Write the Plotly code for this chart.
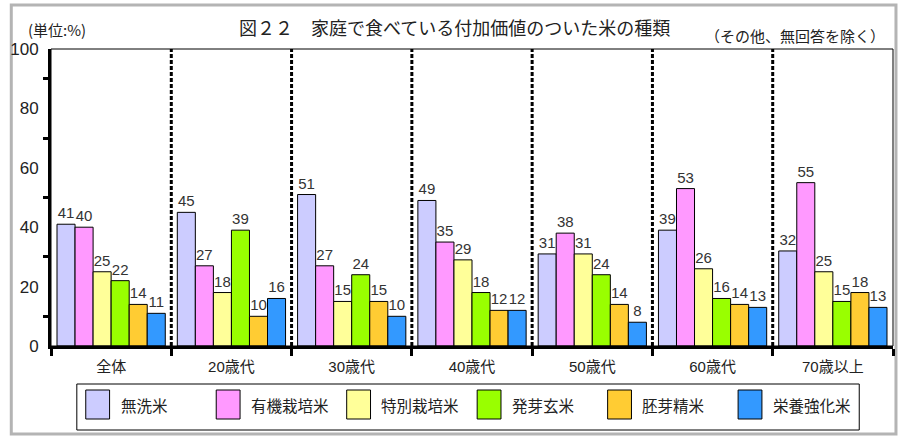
import plotly.graph_objects as go

# ---------------- data ----------------
categories = ["全体", "20歳代", "30歳代", "40歳代", "50歳代", "60歳代", "70歳以上"]
series_names = ["無洗米", "有機栽培米", "特別栽培米", "発芽玄米", "胚芽精米", "栄養強化米"]
series_colors = ["#CCCCFF", "#FF99FF", "#FFFF99", "#99FF00", "#FFCC33", "#3399FF"]

musenmai = [41, 45, 51, 49, 31, 39, 32]
yuki = [40, 27, 27, 35, 38, 53, 55]
tokubetsu = [25, 18, 15, 29, 31, 26, 25]
hatsuga = [22, 39, 24, 18, 24, 16, 15]
haiga = [14, 10, 15, 12, 14, 14, 18]
eiyo = [11, 16, 10, 12, 8, 13, 13]
series_values = [musenmai, yuki, tokubetsu, hatsuga, haiga, eiyo]

y_ticks = [0, 20, 40, 60, 80, 100]

title_text = "図２２　家庭で食べている付加価値のついた米の種類"
unit_text = "(単位:%)"
note_text = "（その他、無回答を除く）"

# ---------------- layout helpers ----------------
W, H = 903, 440
L, R, T, B = 45, 10, 49, 94
PW, PH = W - L - R, H - T - B


def PX(px):
    return (px - L) / PW


def PY(py):
    return (H - B - py) / PH


LATIN = "Liberation Sans, Arial, Noto Sans CJK JP"
CJK = "Noto Sans CJK JP, Liberation Sans"

fig = go.Figure()
for name, color, vals in zip(series_names, series_colors, series_values):
    fig.add_trace(go.Bar(
        x=categories, y=vals, name=name,
        marker=dict(color=color, line=dict(color="black", width=1)),
        text=[str(v) for v in vals], textposition="outside",
        textfont=dict(family=LATIN, size=15, color="#333333"),
        constraintext="none", cliponaxis=False, showlegend=False,
    ))

shapes = []
# outer frame
shapes.append(dict(type="rect", xref="paper", yref="paper",
                   x0=PX(5), x1=PX(896), y0=PY(434), y1=PY(5),
                   line=dict(color="#B4B4B4", width=3), layer="below"))
# plot frame (thin)
shapes.append(dict(type="rect", xref="paper", yref="paper", x0=0, x1=1, y0=0, y1=1,
                   line=dict(color="black", width=1), layer="above"))
# dotted dividers between categories
for i in range(len(categories) - 1):
    shapes.append(dict(type="line", xref="x", yref="paper", x0=i + 0.5, x1=i + 0.5,
                       y0=0, y1=1, line=dict(color="black", width=3, dash="4px,2px"),
                       layer="above"))
# legend box
shapes.append(dict(type="rect", xref="paper", yref="paper",
                   x0=PX(71), x1=PX(859), y0=PY(430), y1=PY(384),
                   line=dict(color="black", width=1), fillcolor="white"))

annotations = []
for i, (name, color) in enumerate(zip(series_names, series_colors)):
    sx = 80 + i * 131.4
    shapes.append(dict(type="rect", xref="paper", yref="paper",
                       x0=PX(sx), x1=PX(sx + 24), y0=PY(419), y1=PY(390),
                       fillcolor=color, line=dict(color="black", width=1)))
    annotations.append(dict(text=name, xref="paper", yref="paper", x=PX(sx + 33), y=PY(405),
                            xanchor="left", yanchor="middle", showarrow=False,
                            font=dict(family=CJK, size=15.5, color="#222222")))

annotations.append(dict(text=title_text, xref="paper", yref="paper", x=PX(451), y=PY(27),
                        xanchor="center", yanchor="middle", showarrow=False,
                        font=dict(family=CJK, size=18, color="#222222")))
annotations.append(dict(text=unit_text, xref="paper", yref="paper", x=PX(20), y=PY(29),
                        xanchor="left", yanchor="middle", showarrow=False,
                        font=dict(family=CJK, size=15, color="#222222")))
annotations.append(dict(text=note_text, xref="paper", yref="paper", x=PX(887), y=PY(35),
                        xanchor="right", yanchor="middle", showarrow=False,
                        font=dict(family=CJK, size=15, color="#222222")))

fig.update_layout(
    width=W, height=H, autosize=False,
    margin=dict(l=L, r=R, t=T, b=B, pad=0),
    paper_bgcolor="white", plot_bgcolor="white",
    barmode="group", bargap=0.1, bargroupgap=0,
    shapes=shapes, annotations=annotations, showlegend=False,
    xaxis=dict(type="category", range=[-0.5, len(categories) - 0.5],
               showline=True, linecolor="black", linewidth=3,
               tickson="boundaries", ticks="outside", ticklen=7, tickwidth=3, tickcolor="black",
               tickfont=dict(family=LATIN, size=15, color="#222222"),
               ticklabelstandoff=5,
               showgrid=False, zeroline=False, fixedrange=True),
    yaxis=dict(range=[0, 100], tickvals=y_ticks, ticks="",
               showline=True, linecolor="black", linewidth=3,
               minor=dict(tick0=10, dtick=20, ticks="outside", ticklen=5, tickwidth=3,
                          tickcolor="black", showgrid=False),
               tickfont=dict(family=LATIN, size=17, color="#222222"),
               ticklabelstandoff=6,
               showgrid=False, zeroline=False, fixedrange=True),
)

fig.write_html("out.html", config={"displayModeBar": False},
               post_script="document.body.style.margin='0';document.body.style.overflow='hidden';")
